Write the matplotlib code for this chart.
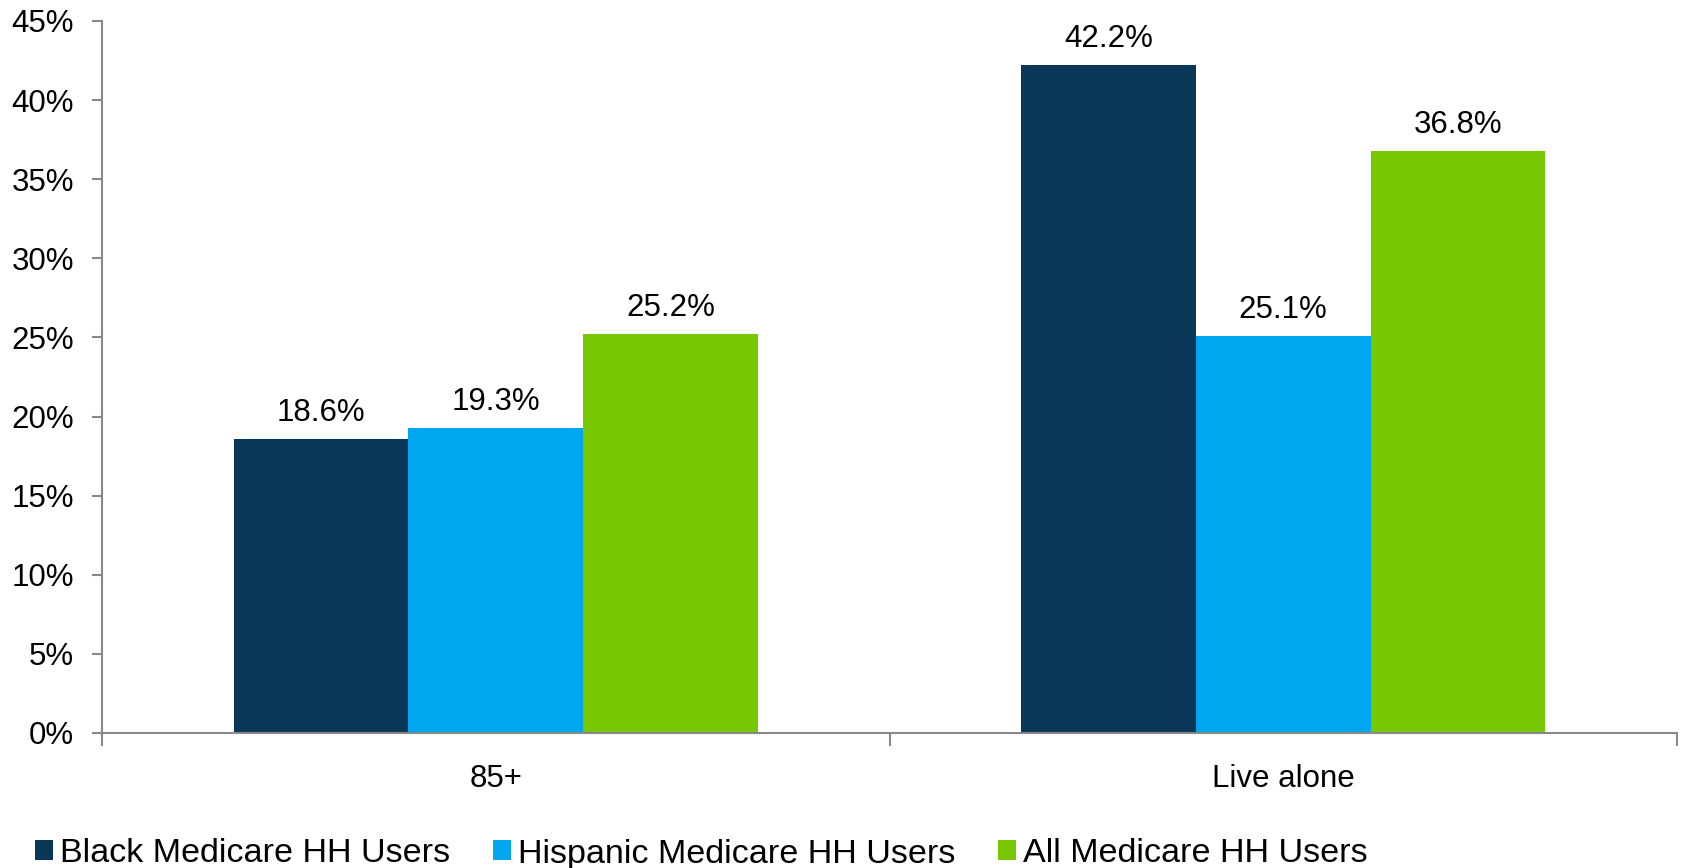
import numpy as np
import matplotlib
matplotlib.use("Agg")
import matplotlib.pyplot as plt
from matplotlib.ticker import FuncFormatter

plt.rcParams['font.family'] = ['Liberation Sans', 'DejaVu Sans']

categories = ["85+", "Live alone"]
series_names = ["Black Medicare HH Users", "Hispanic Medicare HH Users", "All Medicare HH Users"]
black = [18.6, 42.2]
hispanic = [19.3, 25.1]
all_users = [25.2, 36.8]
colors = ["#0A3758", "#00A6EF", "#77C800"]

fig = plt.figure(figsize=(16.82, 8.68), dpi=100)
ax = fig.add_axes([102 / 1682, 1 - 733 / 868, (1677 - 102) / 1682, (733 - 21) / 868])

x = np.arange(len(categories))
width = 0.222
for i, (vals, name, col) in enumerate(zip([black, hispanic, all_users], series_names, colors)):
    pos = x + (i - 1) * width
    ax.bar(pos, vals, width, color=col, label=name)
    for p, v in zip(pos, vals):
        ax.annotate(f"{v:.1f}%", (p, v), xytext=(0, 8), textcoords="offset points",
                    ha="center", va="bottom", fontsize=22.5)

ax.set_ylim(0, 45)
ax.set_yticks(np.arange(0, 46, 5))
ax.yaxis.set_major_formatter(FuncFormatter(lambda v, _: f"{v:.0f}%"))
ax.set_xlim(-0.5, 1.5)
ax.set_xticks(x)
ax.set_xticklabels(categories)
ax.set_xticks([-0.5, 0.5, 1.5], minor=True)
ax.tick_params(axis="x", which="major", length=0, pad=22, labelsize=22.5)
ax.tick_params(axis="x", which="minor", length=9, color="#888888", width=1.5)
ax.tick_params(axis="y", length=7, color="#888888", width=1.5, labelsize=22.5, pad=13)

for s in ["top", "right"]:
    ax.spines[s].set_visible(False)
for s in ["left", "bottom"]:
    ax.spines[s].set_color("#888888")
    ax.spines[s].set_linewidth(1.5)

fig.legend(loc="center left", bbox_to_anchor=(35 / 1682, 14 / 868), ncol=3, frameon=False,
           fontsize=24.6, handlelength=0.53, handleheight=0.53, handletextpad=0.2,
           columnspacing=1.25, borderpad=0, borderaxespad=0)

fig.savefig("out.png", dpi=100)
